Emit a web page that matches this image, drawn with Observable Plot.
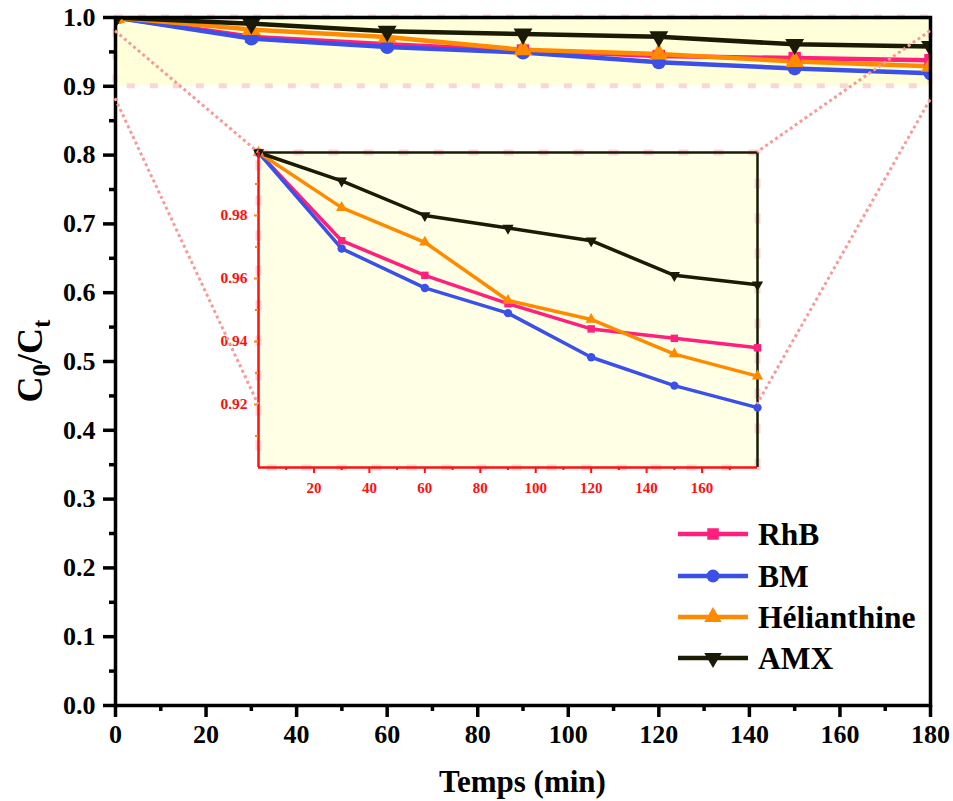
<!DOCTYPE html>
<html><head><meta charset="utf-8">
<script src="https://cdn.jsdelivr.net/npm/d3@7"></script>
<script src="https://cdn.jsdelivr.net/npm/@observablehq/plot@0.6"></script>
<style>
body{margin:0;background:#fff;}
#wrap{position:relative;width:953px;height:801px;overflow:hidden;}
#wrap svg{position:absolute;}
</style></head><body><div id="wrap"></div>
<script>
// ---- data ----
const time = [0, 30, 60, 90, 120, 150, 180];
const rhb = [1.0, 0.972, 0.961, 0.952, 0.944, 0.941, 0.938];
const bm = [1.0, 0.9695, 0.957, 0.949, 0.935, 0.926, 0.919];
const helianthine = [1.0, 0.9825, 0.9715, 0.953, 0.947, 0.936, 0.929];
const amx = [1.0, 0.991, 0.980, 0.976, 0.972, 0.961, 0.958];
const seriesNames = ["RhB", "BM", "Hélianthine", "AMX"];
const seriesValues = [rhb, bm, helianthine, amx];
const seriesColors = ["#FF1F7D", "#3A50E8", "#FF8A00", "#1B1B05"];
const seriesSymbols = ["square", "circle", "triangle", "triangle"];
const seriesRotate = [0, 0, 0, 180];
const xTicksMain = [0, 20, 40, 60, 80, 100, 120, 140, 160, 180];
const xMinorMain = [10, 30, 50, 70, 90, 110, 130, 150, 170];
const yTicksMain = [0, 0.1, 0.2, 0.3, 0.4, 0.5, 0.6, 0.7, 0.8, 0.9, 1.0];
const yMinorMain = [0.05, 0.15, 0.25, 0.35, 0.45, 0.55, 0.65, 0.75, 0.85, 0.95];
const zoomBand = [{x1: 0, x2: 180, y1: 0.9, y2: 1.0}];
const insetXTicks = [20, 40, 60, 80, 100, 120, 140, 160];
const insetXMinor = [10, 30, 50, 70, 90, 110, 130, 150, 170];
const insetYTicks = [0.92, 0.94, 0.96, 0.98];
const insetYMinor = [0.91, 0.93, 0.95, 0.97, 0.99];
const connMain = [[0, 0.98], [0, 0.882], [180, 0.98], [180, 0.88]];
const connInset = [[0, 1.0], [0, 0.92], [180, 1.0], [180, 0.92]];

const rows = seriesNames.flatMap((s, i) => time.map((t, j) => ({s, t, v: seriesValues[i][j]})));
const F = "'Liberation Serif', 'Times New Roman', serif";
const wrap = document.getElementById("wrap");

// ---- main chart ----
const mainMarks = [
  Plot.rect(zoomBand, {x1: "x1", x2: "x2", y1: "y1", y2: "y2", fill: "#FFFFDA"}),
  Plot.rect(zoomBand, {x1: "x1", x2: "x2", y1: "y1", y2: "y2", fill: "none", stroke: "#FAD6D6", strokeWidth: 5, strokeDasharray: "8,15"}),
];
seriesNames.forEach((s, i) => {
  const d = rows.filter(r => r.s === s);
  mainMarks.push(Plot.line(d, {x: "t", y: "v", stroke: seriesColors[i], strokeWidth: 4.5, clip: true}));
});
seriesNames.forEach((s, i) => {
  const d = rows.filter(r => r.s === s);
  mainMarks.push(Plot.dot(d, {x: "t", y: "v", fill: seriesColors[i], symbol: seriesSymbols[i], rotate: seriesRotate[i], r: 7, clip: true}));
});
mainMarks.push(
  Plot.frame({stroke: "#000", strokeWidth: 3.5}),
  Plot.axisX(xTicksMain, {tickSize: 12, strokeWidth: 3.5, fontSize: 26, tickPadding: 7, label: null, fill: "#000"}),
  Plot.axisX(xMinorMain, {tickSize: 6, strokeWidth: 3.5, tickFormat: () => "", label: null}),
  Plot.axisY(yTicksMain, {tickSize: 12, strokeWidth: 3.5, fontSize: 26, tickPadding: 8, tickFormat: d3.format(".1f"), label: null, fill: "#000"}),
  Plot.axisY(yMinorMain, {tickSize: 6, strokeWidth: 3.5, tickFormat: () => "", label: null})
);
const main = Plot.plot({
  width: 953, height: 801,
  marginLeft: 115, marginRight: 23, marginTop: 17, marginBottom: 96,
  style: {fontFamily: F, fontWeight: "bold", background: "transparent", color: "#000", overflow: "visible"},
  x: {domain: [0, 180]},
  y: {domain: [0, 1]},
  marks: mainMarks
});
main.style.left = "0px"; main.style.top = "0px";
wrap.appendChild(main);
const mx = main.scale("x"), my = main.scale("y");

// ---- inset chart ----
const insetBox = {left: 258, top: 152, width: 499, height: 315};
const iM = {left: 50, right: 6, top: 6, bottom: 40};
const insetMarks = [
  Plot.frame({fill: "#FFFFE6", stroke: "#FAD6D6", strokeWidth: 6, strokeDasharray: "10,25"}),
  Plot.ruleY([1.0], {stroke: "#1B1B05", strokeWidth: 2.5}),
  Plot.ruleX([180], {stroke: "#1B1B05", strokeWidth: 2.5}),
];
seriesNames.forEach((s, i) => {
  const d = rows.filter(r => r.s === s);
  insetMarks.push(Plot.line(d, {x: "t", y: "v", stroke: seriesColors[i], strokeWidth: 3.5}));
});
seriesNames.forEach((s, i) => {
  const d = rows.filter(r => r.s === s);
  insetMarks.push(Plot.dot(d, {x: "t", y: "v", fill: seriesColors[i], symbol: seriesSymbols[i], rotate: seriesRotate[i], r: 4.2}));
});
insetMarks.push(
  Plot.ruleX([0], {stroke: "#FF1010", strokeWidth: 2.5}),
  Plot.ruleY([0.9], {stroke: "#FF1010", strokeWidth: 2.5}),
  Plot.axisX(insetXTicks, {tickSize: 6, strokeWidth: 2, fontSize: 15, tickPadding: 9, label: null, color: "#FF1010"}),
  Plot.axisX(insetXMinor, {tickSize: 3, strokeWidth: 2, tickFormat: () => "", label: null, color: "#FF1010"}),
  Plot.axisY(insetYTicks, {tickSize: 4, strokeWidth: 2, tickFormat: () => "", label: null, stroke: "#FF8C00"}),
  Plot.axisY(insetYMinor, {tickSize: 3, strokeWidth: 2, tickFormat: () => "", label: null, stroke: "#FF8C00"}),
  Plot.axisY(insetYTicks, {tickSize: 0, fontSize: 15.5, tickPadding: 11, tickFormat: d3.format(".2f"), label: null, fill: "#FF1010"})
);
const inset = Plot.plot({
  width: insetBox.width + iM.left + iM.right,
  height: insetBox.height + iM.top + iM.bottom,
  marginLeft: iM.left, marginRight: iM.right, marginTop: iM.top, marginBottom: iM.bottom,
  style: {fontFamily: F, fontWeight: "bold", background: "transparent", overflow: "visible"},
  x: {domain: [0, 180]},
  y: {domain: [0.9, 1.0]},
  marks: insetMarks
});
inset.style.left = (insetBox.left - iM.left) + "px";
inset.style.top = (insetBox.top - iM.top) + "px";
wrap.appendChild(inset);
const ix = inset.scale("x"), iy = inset.scale("y");

// ---- overlay: connectors, legend, y label, x label ----
const ov = d3.select(wrap).append("svg")
  .attr("width", 953).attr("height", 801)
  .style("left", "0px").style("top", "0px")
  .style("font-family", F).style("font-weight", "bold");
connMain.forEach((p, k) => {
  const q = connInset[k];
  ov.append("line")
    .attr("x1", mx.apply(p[0])).attr("y1", my.apply(p[1]))
    .attr("x2", insetBox.left - iM.left + ix.apply(q[0]))
    .attr("y2", insetBox.top - iM.top + iy.apply(q[1]))
    .attr("stroke", "#F79A9A").attr("stroke-width", 3)
    .attr("stroke-dasharray", "3,3");
});

const legY = [534, 576, 617, 658];
seriesNames.forEach((s, i) => {
  const g = ov.append("g").attr("transform", `translate(0,${legY[i]})`);
  g.append("line").attr("x1", 678).attr("x2", 748).attr("y1", 0).attr("y2", 0)
    .attr("stroke", seriesColors[i]).attr("stroke-width", 4.5);
  const sym = {square: d3.symbolSquare, circle: d3.symbolCircle, triangle: d3.symbolTriangle}[seriesSymbols[i]];
  g.append("path").attr("d", d3.symbol(sym, Math.PI * 6.5 * 6.5)())
    .attr("transform", `translate(713,0) rotate(${seriesRotate[i]})`)
    .attr("fill", seriesColors[i]);
  g.append("text").attr("x", 758).attr("y", 0).attr("dy", "0.35em")
    .attr("font-size", 31.5).attr("fill", "#000").text(s);
});

const yl = ov.append("text")
  .attr("transform", `translate(42,${(my.apply(0) + my.apply(1)) / 2}) rotate(-90)`)
  .attr("text-anchor", "middle").attr("font-size", 36).attr("fill", "#000");
yl.append("tspan").text("C");
yl.append("tspan").attr("font-size", 25).attr("dy", 8).text("0");
yl.append("tspan").attr("dy", -8).text("/C");
yl.append("tspan").attr("font-size", 25).attr("dy", 8).text("t");

ov.append("text")
  .attr("x", (mx.apply(0) + mx.apply(180)) / 2).attr("y", 792)
  .attr("text-anchor", "middle").attr("font-size", 31).attr("fill", "#000")
  .text("Temps (min)");
</script></body></html>
